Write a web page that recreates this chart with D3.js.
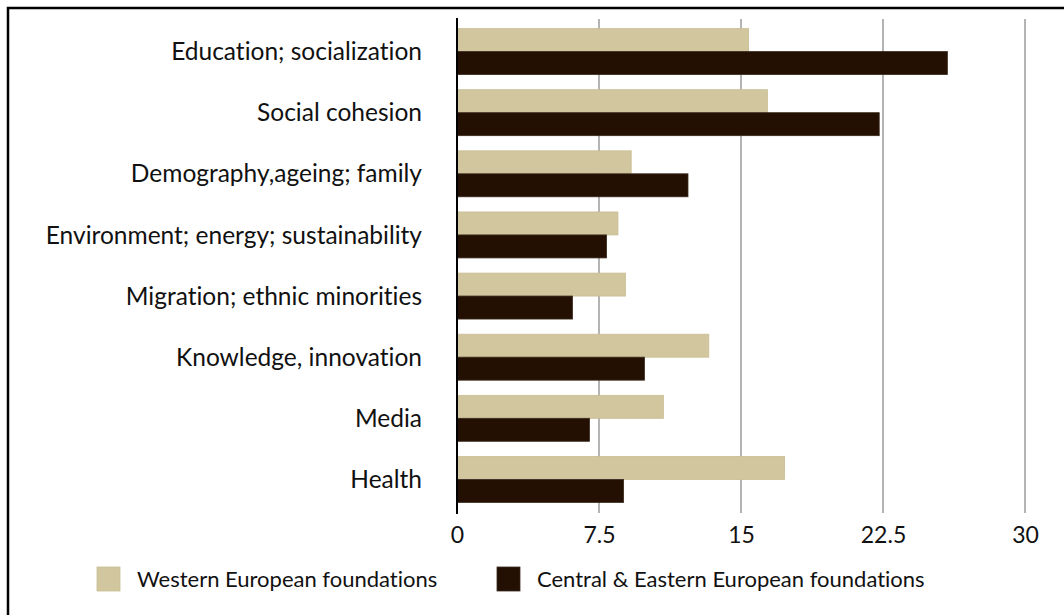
<!DOCTYPE html>
<html>
<head>
<meta charset="utf-8">
<script src="https://cdn.jsdelivr.net/npm/d3@7"></script>
<style>
  html, body { margin: 0; padding: 0; background: #fff; }
  svg { display: block; }
  text { font-family: Lato, "Open Sans", sans-serif; fill: #111;
         font-variant-ligatures: none; font-feature-settings: "liga" 0, "clig" 0; }
</style>
</head>
<body>
<svg id="chart" width="1064" height="615"></svg>
<script>
// Research themes of foundations, share (%) by region
const categories = [
  "Education; socialization",
  "Social cohesion",
  "Demography,ageing; family",
  "Environment; energy; sustainability",
  "Migration; ethnic minorities",
  "Knowledge, innovation",
  "Media",
  "Health"
];
const seriesNames = ["Western European foundations", "Central & Eastern European foundations"];
const western = [15.4, 16.4, 9.2, 8.5, 8.9, 13.3, 10.9, 17.3];
const central  = [25.9, 22.3, 12.2, 7.9, 6.1, 9.9, 7.0, 8.8];
const tickValues = [0, 7.5, 15, 22.5, 30];
const colors = ["#d1c69d", "#231002"];

const svg = d3.select("#chart");

// frame around the chart
svg.append("rect")
  .attr("x", 8).attr("y", 8)
  .attr("width", 1070).attr("height", 620)
  .attr("fill", "none").attr("stroke", "#000").attr("stroke-width", 2.5);

const x = d3.scaleLinear().domain([0, 30]).range([457, 1025]);
const y = d3.scaleBand().domain(categories).range([21, 510]);
const inner = d3.scaleBand().domain(seriesNames).range([0, y.bandwidth()])
  .paddingOuter(0.33).paddingInner(0);

// vertical gridlines
svg.append("g").selectAll("line")
  .data(tickValues.filter(d => d > 0))
  .join("line")
  .attr("x1", d => x(d)).attr("x2", d => x(d))
  .attr("y1", 19).attr("y2", 513)
  .attr("stroke", "#b4b4b4").attr("stroke-width", 2);

// bars
const series = [western, central];
series.forEach((vals, si) => {
  svg.append("g").selectAll("rect")
    .data(categories)
    .join("rect")
    .attr("x", x(0))
    .attr("y", c => y(c) + inner(seriesNames[si]))
    .attr("width", (c, i) => x(vals[i]) - x(0))
    .attr("height", inner.bandwidth())
    .attr("fill", colors[si])
    .attr("stroke", si === 0 ? "#c9bd94" : "#3a2a1e")
    .attr("stroke-width", 0.8);
});

// category labels
svg.append("g").selectAll("text")
  .data(categories)
  .join("text")
  .attr("x", 422)
  .attr("y", c => y(c) + y.bandwidth() / 2)
  .attr("dy", "0.35em")
  .attr("text-anchor", "end")
  .style("font-size", "24.5px")
  .text(c => c);

// x axis
const xAxis = d3.axisBottom(x)
  .tickValues(tickValues)
  .tickFormat(d => String(d))
  .tickSize(0)
  .tickPadding(8);
const gx = svg.append("g").attr("transform", "translate(0,519)").call(xAxis);
gx.select(".domain").remove();
gx.selectAll("text")
  .style("font-size", "23px")
  .style("font-family", "Lato, \"Open Sans\", sans-serif")
  .attr("fill", "#111");

// value axis baseline
svg.append("line")
  .attr("x1", x(0)).attr("x2", x(0))
  .attr("y1", 18).attr("y2", 514)
  .attr("stroke", "#000").attr("stroke-width", 2);

// legend
const legendX = [97, 497];
const lg = svg.append("g").selectAll("g")
  .data(seriesNames)
  .join("g")
  .attr("transform", (d, i) => `translate(${legendX[i]},567)`);
lg.append("rect")
  .attr("width", 23).attr("height", 24)
  .attr("fill", (d, i) => colors[i])
  .attr("stroke", (d, i) => i === 0 ? "#c9bd94" : "#3a2a1e")
  .attr("stroke-width", 0.8);
lg.append("text")
  .attr("x", 40).attr("y", 12)
  .attr("dy", "0.35em")
  .style("font-size", "22px")
  .text(d => d);
</script>
</body>
</html>
